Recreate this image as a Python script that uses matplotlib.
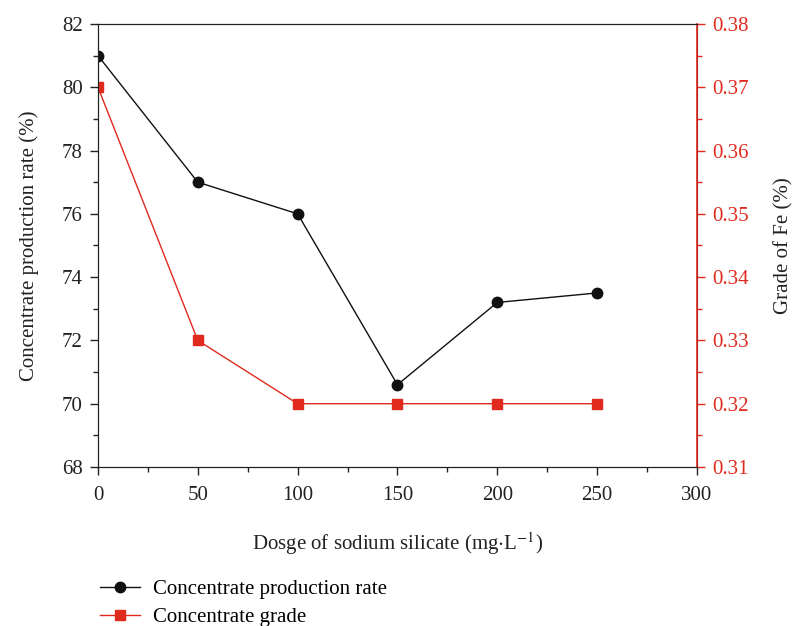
import matplotlib.pyplot as plt
from matplotlib.ticker import MultipleLocator

plt.rcParams['font.family'] = ['Liberation Serif', 'DejaVu Serif']
plt.rcParams['mathtext.fontset'] = 'stix'

# Dosage of sodium silicate (mg/L)
dosage = [0, 50, 100, 150, 200, 250]
# Concentrate production rate (%)
production_rate = [81.0, 77.0, 76.0, 70.6, 73.2, 73.5]
# Grade of Fe (%)
fe_grade = [0.37, 0.33, 0.32, 0.32, 0.32, 0.32]

red = '#e02a1e'
dark = '#222222'

fig = plt.figure(figsize=(8.01, 6.26), dpi=100)
ax = fig.add_axes([0.1223, 0.254, 0.7478, 0.7077])
ax2 = ax.twinx()

l1, = ax.plot(dosage, production_rate, color='#111111', marker='o', markersize=7.5,
              linewidth=1.0, label='Concentrate production rate', zorder=3)
l2, = ax2.plot(dosage, fe_grade, color=red, marker='s', markersize=7,
               linewidth=1.0, label='Concentrate grade')

ax.set_xlim(0, 300)
ax.set_ylim(68, 82)
ax2.set_ylim(0.31, 0.38)

ax.xaxis.set_major_locator(MultipleLocator(50))
ax.xaxis.set_minor_locator(MultipleLocator(25))
ax.yaxis.set_major_locator(MultipleLocator(2))
ax.yaxis.set_minor_locator(MultipleLocator(1))
ax2.yaxis.set_major_locator(MultipleLocator(0.01))
ax2.yaxis.set_minor_locator(MultipleLocator(0.005))
ax2.yaxis.set_major_formatter(plt.FormatStrFormatter('%.2f'))

ax.tick_params(axis='both', which='major', direction='out', length=6, width=1,
               labelsize=15, colors=dark)
ax.tick_params(axis='both', which='minor', direction='out', length=3.5, width=1,
               colors=dark)
ax.tick_params(axis='x', pad=8)
ax.tick_params(axis='y', pad=5)
ax2.tick_params(axis='y', which='major', direction='out', length=6, width=1,
                labelsize=15, colors=red, pad=5)
ax2.tick_params(axis='y', which='minor', direction='out', length=3.5, width=1,
                colors=red)

for sp in ['left', 'top', 'bottom']:
    ax2.spines[sp].set_color(dark)
ax2.spines['right'].set_color(red)
ax2.spines['right'].set_linewidth(1.2)

ax.set_xlabel('Dosge of sodium silicate (mg$\\cdot$L$^{-1}$)', fontsize=15,
              labelpad=18, color=dark)
ax.set_ylabel('Concentrate production rate (%)', fontsize=15, labelpad=16,
              color=dark)
ax2.set_ylabel('Grade of Fe (%)', fontsize=15, labelpad=18, color=dark)

fig.legend(handles=[l1, l2], loc='upper left', bbox_to_anchor=(0.115, 0.087),
           frameon=False, fontsize=15, handlelength=1.9, handletextpad=0.6,
           labelspacing=0.38, borderaxespad=0)

plt.savefig('out.png', dpi=100)
